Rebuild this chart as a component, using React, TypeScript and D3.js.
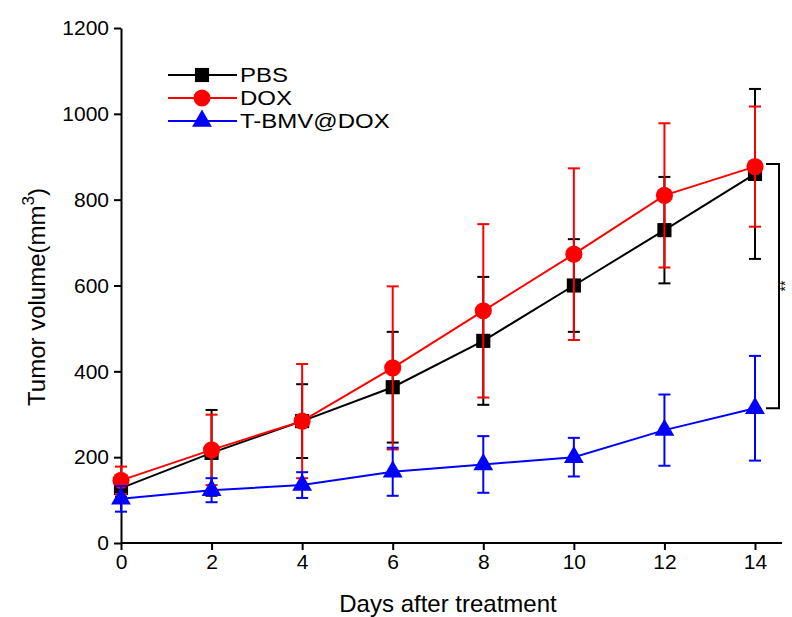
import React, { useEffect, useRef } from 'react';
import * as d3 from 'd3';

const days = [0, 2, 4, 6, 8, 10, 12, 14];
const xTicks = [0, 2, 4, 6, 8, 10, 12, 14];
const yTicks = [0, 200, 400, 600, 800, 1000, 1200];

const seriesNames = ['PBS', 'DOX', 'T-BMV@DOX'];
const pbsMean = [128, 210, 284, 363, 471, 600, 729, 860];
const pbsErr = [20, 100, 86, 129, 149, 108, 124, 198];
const doxMean = [146, 217, 284, 408, 541, 673, 810, 877];
const doxErr = [32, 82, 133, 190, 202, 200, 168, 140];
const tbmvMean = [103, 123, 135, 166, 183, 200, 263, 314];
const tbmvErr = [30, 28, 30, 56, 66, 45, 83, 122];

const seriesColors = ['#000000', '#ff0000', '#0000ff'];
const seriesSymbols = [d3.symbolSquare, d3.symbolCircle, d3.symbolTriangle];
const symbolSizes = [200, 230, 170];

const App = () => {
  const svgRef = useRef<SVGSVGElement>(null);

  useEffect(() => {
    const w = 792;
    const h = 617;
    const left = 121;
    const svg = d3.select(svgRef.current).attr('width', w).attr('height', h);
    svg.selectAll('*').remove();

    const xScale = d3.scaleLinear().domain([0, 14]).range([left, 755]);
    const yScale = d3.scaleLinear().domain([0, 1200]).range([543, 28]);

    const font = 'Liberation Sans, Arial, sans-serif';

    // axes
    const xAxis = d3.axisBottom(xScale).tickValues(xTicks).tickFormat(d3.format('d'))
      .tickSize(7).tickSizeOuter(0).tickPadding(4);
    const yAxis = d3.axisLeft(yScale).tickValues(yTicks).tickFormat(d3.format('d'))
      .tickSize(7).tickSizeOuter(0).tickPadding(5);

    const gx = svg.append('g').attr('transform', `translate(0,${yScale(0)})`).call(xAxis);
    gx.select('.domain').remove();
    gx.append('line')
      .attr('x1', left).attr('x2', 782).attr('y1', 0).attr('y2', 0)
      .attr('stroke', '#000').attr('stroke-width', 2);
    gx.selectAll('.tick line').attr('stroke-width', 2);
    gx.selectAll('.tick text').attr('font-size', 21).attr('font-family', font).attr('fill', '#000');

    const gy = svg.append('g').attr('transform', `translate(${left},0)`).call(yAxis);
    gy.select('.domain').attr('stroke-width', 2);
    gy.selectAll('.tick line').attr('stroke-width', 2);
    gy.selectAll('.tick text').attr('font-size', 21).attr('font-family', font).attr('fill', '#000');

    // axis titles
    svg.append('text')
      .attr('x', 448).attr('y', 612)
      .attr('text-anchor', 'middle')
      .attr('font-size', 24).attr('font-family', font)
      .text('Days after treatment');

    const yt = svg.append('text')
      .attr('transform', 'translate(45,297) rotate(-90)')
      .attr('text-anchor', 'middle')
      .attr('font-size', 24).attr('font-family', font);
    yt.append('tspan').text('Tumor volume(mm');
    yt.append('tspan').attr('font-size', 17).attr('dy', -11).text('3');
    yt.append('tspan').attr('dy', 11).text(')');

    const allMeans = [pbsMean, doxMean, tbmvMean];
    const allErrs = [pbsErr, doxErr, tbmvErr];
    const cap = 6;

    allMeans.forEach((means, si) => {
      const color = seriesColors[si];
      const errs = allErrs[si];
      const g = svg.append('g');
      const pts = days.map((d, i) => [d, means[i], errs[i]]);

      // error bars
      const eb = g.selectAll('g.err').data(pts).enter().append('g')
        .attr('stroke', color).attr('stroke-width', 2);
      eb.append('line')
        .attr('x1', (d) => xScale(d[0])).attr('x2', (d) => xScale(d[0]))
        .attr('y1', (d) => yScale(d[1] - d[2])).attr('y2', (d) => yScale(d[1] + d[2]));
      eb.append('line')
        .attr('x1', (d) => xScale(d[0]) - cap).attr('x2', (d) => xScale(d[0]) + cap)
        .attr('y1', (d) => yScale(d[1] + d[2])).attr('y2', (d) => yScale(d[1] + d[2]));
      eb.append('line')
        .attr('x1', (d) => xScale(d[0]) - cap).attr('x2', (d) => xScale(d[0]) + cap)
        .attr('y1', (d) => yScale(d[1] - d[2])).attr('y2', (d) => yScale(d[1] - d[2]));

      const line = d3.line<number[]>().x((d) => xScale(d[0])).y((d) => yScale(d[1]));
      g.append('path').datum(pts).attr('d', line)
        .attr('fill', 'none').attr('stroke', color).attr('stroke-width', 2);

      const sym = d3.symbol().type(seriesSymbols[si]).size(symbolSizes[si]);
      g.selectAll('path.m').data(pts).enter().append('path')
        .attr('class', 'm')
        .attr('d', sym)
        .attr('transform', (d) => `translate(${xScale(d[0])},${yScale(d[1])})`)
        .attr('fill', color);
    });

    // legend
    const legend = svg.append('g');
    seriesNames.forEach((name, i) => {
      const y = 75 + i * 23;
      legend.append('line')
        .attr('x1', 168).attr('x2', 237).attr('y1', y).attr('y2', y)
        .attr('stroke', seriesColors[i]).attr('stroke-width', 2);
      legend.append('path')
        .attr('d', d3.symbol().type(seriesSymbols[i]).size(symbolSizes[i])())
        .attr('transform', `translate(202,${y})`)
        .attr('fill', seriesColors[i]);
      const t = legend.append('text')
        .attr('x', 240).attr('y', y + 7)
        .attr('font-size', 20).attr('font-family', font)
        .text(name);
      // reference glyphs are a bit wider than Liberation Sans
      const len = (t.node() as SVGTextElement).getComputedTextLength();
      t.attr('textLength', len * 1.2).attr('lengthAdjust', 'spacingAndGlyphs');
    });

    // significance bracket
    const yTop = yScale(pbsMean[7]) - 10;
    const yBot = yScale(tbmvMean[7]);
    svg.append('path')
      .attr('d', `M766,${yTop}H779V${yBot}H766`)
      .attr('fill', 'none').attr('stroke', '#000').attr('stroke-width', 2);
    svg.append('text')
      .attr('transform', `translate(790,${(yTop + yBot) / 2}) rotate(-90)`)
      .attr('text-anchor', 'middle')
      .attr('font-size', 14).attr('font-family', font)
      .text('**');
  }, []);

  return <svg ref={svgRef} style={{ position: 'absolute', left: 0, top: 0 }}></svg>;
};

export default App;
